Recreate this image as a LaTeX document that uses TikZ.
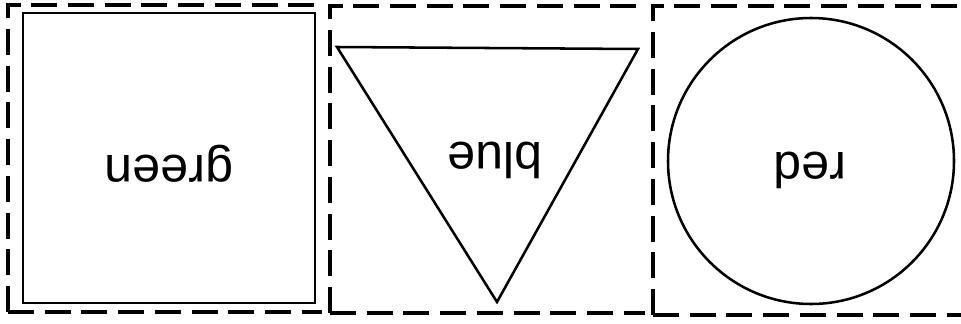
\documentclass[tikz,border=0pt]{standalone}
\usepackage{fontspec}
\setmainfont{Liberation Sans}
\usepackage{tikz}
\usetikzlibrary{arrows.meta}
\usepackage{xcolor}

\tikzset{
  dashbox/.style={line width=2.2pt,dash pattern=on 18.5pt off 7.6pt},
  shapeline/.style={line width=1.8pt},
  upside/.style={rotate=180,anchor=base,font=\fontsize{35.6pt}{40pt}\selectfont}
}

\begin{document}
\begin{tikzpicture}[x=0.025cm,y=-0.025cm]
\useasboundingbox (0,0) rectangle (961,323);
% dashed frames, each open on its right side
\foreach \xa/\xb/\ya/\yb in {8/322/5/312, 330/645/6/313, 653/961/6/315}{
  \draw[dashbox] (\xa,\yb) -- (\xa,\ya) -- (\xb,\ya);
  \draw[dashbox] (\xa,\yb) -- (\xb,\yb);
}
% shapes
\draw[shapeline] (23,13) rectangle (315,303);
\draw[shapeline] (337,47) -- (638,49) -- (497,302) -- cycle;
\draw[shapeline] (811,161) circle (143);
% labels
\node[upside] (green) at (169,155) {green};
\node[upside] (blue)  at (495,142) {blue};
\node[upside] (red)   at (810,152) {red};
\end{tikzpicture}
\end{document}
